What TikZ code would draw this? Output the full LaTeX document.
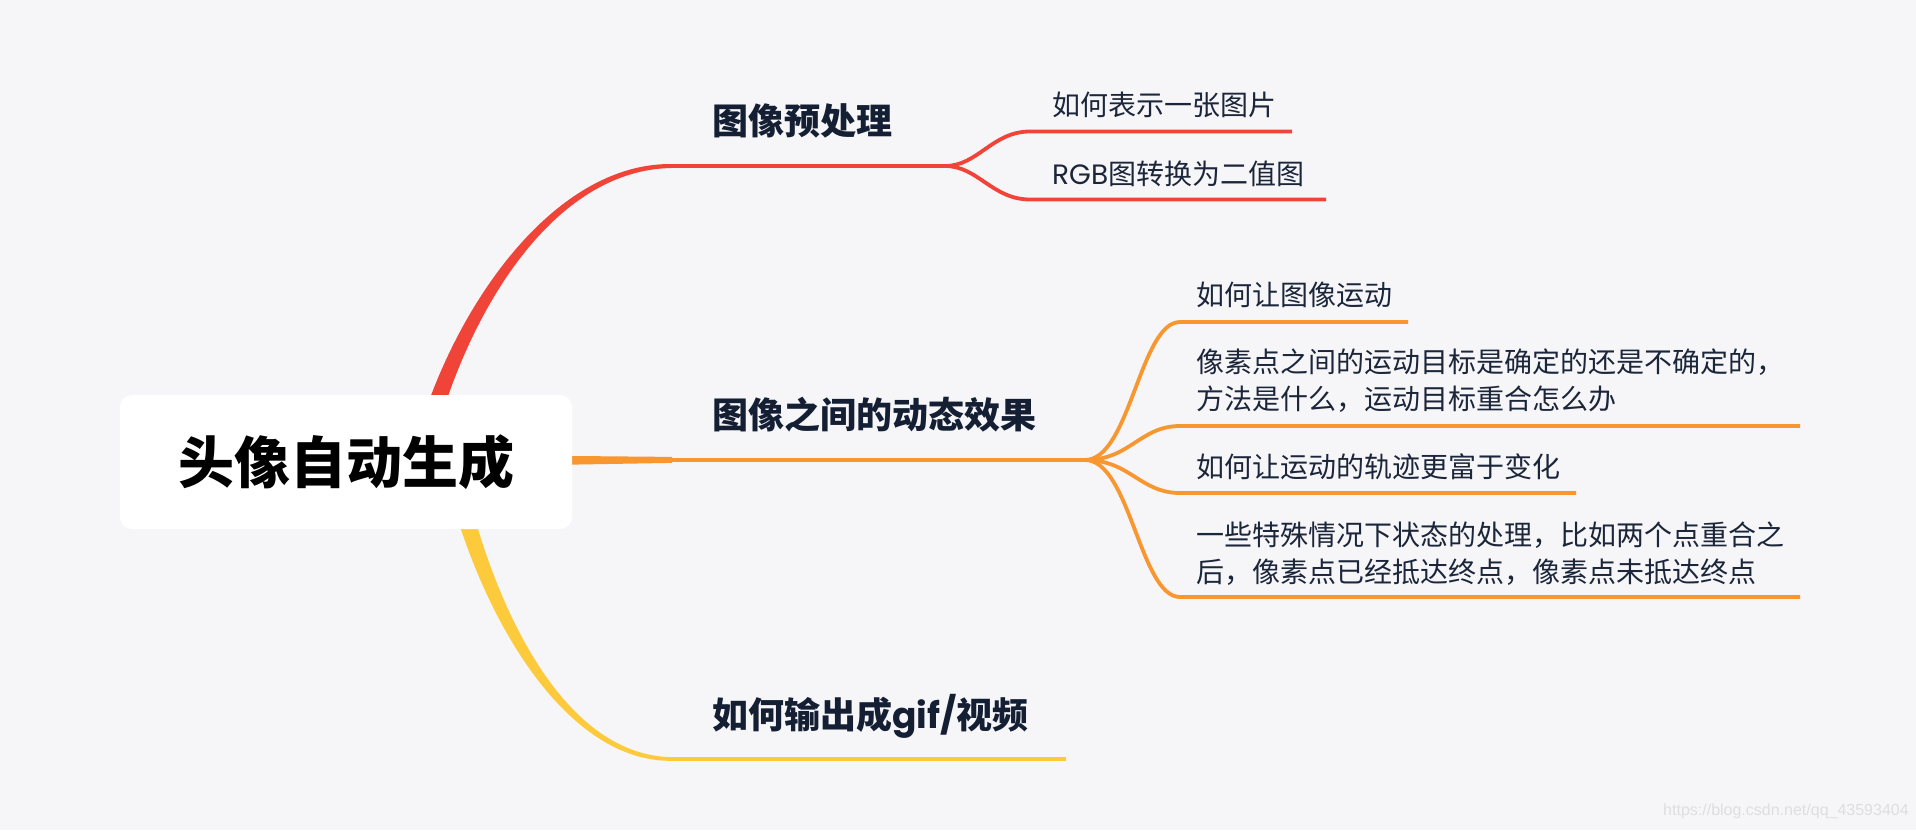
\documentclass[tikz,border=0pt]{standalone}
\usepackage{fontspec}
\newfontfamily\cjk{Noto Sans CJK SC}
\newfontfamily\lat{Poppins}
\newfontfamily\wm{Liberation Sans}
\usetikzlibrary{calc}
\definecolor{bg}{RGB}{246,246,248}
\definecolor{cred}{RGB}{241,68,57}
\definecolor{corange}{RGB}{248,150,48}
\definecolor{cyellow}{RGB}{253,202,60}
\definecolor{inkmain}{RGB}{20,31,52}
\definecolor{inksub}{RGB}{28,38,58}
\definecolor{wmgray}{RGB}{222,222,226}
\begin{document}
\begin{tikzpicture}[x=1pt,y=-1pt,
  rootbox/.style={fill=white, rounded corners=12pt, inner sep=0pt,
    minimum width=452pt, minimum height=134pt,
    font=\cjk\bfseries\fontsize{56}{60}\selectfont, text=black},
  maintext/.style={inner sep=0pt, anchor=base west,
    font=\cjk\bfseries\fontsize{36}{40}\selectfont, text=inkmain},
  subtext/.style={inner sep=0pt, anchor=base west, align=left,
    font=\cjk\fontsize{28}{36.5}\selectfont, text=inksub},
  redline/.style={draw=cred, line width=3.8pt},
  orangeline/.style={draw=corange, line width=3.8pt},
  yellowline/.style={draw=cyellow, line width=3.6pt}]
\useasboundingbox (0,0) rectangle (1916,830);
\fill[bg] (0,0) rectangle (1916,830);

% junction coordinates
\coordinate (redEnd) at (672,166);
\coordinate (redJ) at (945,166);
\coordinate (orgEnd) at (672,460);
\coordinate (orgJ) at (1085,460);
\coordinate (yelEnd) at (672,759);
\coordinate (yelJ) at (1066,759);

% tapered main branches (drawn below the root box)
\fill[cred] (409.2,468.1) .. controls (439.7,328.2) and (545,162.5) .. (672,164)
  -- (672,168) .. controls (545,169.5) and (456.3,331.8) .. (426.8,471.9) -- cycle;
\fill[cyellow] (441.2,456.8) .. controls (471.7,601.7) and (560,762.5) .. (672,760.8)
  -- (672,757.2) .. controls (560,755.5) and (488.3,598.3) .. (458.8,453.2) -- cycle;
\fill[corange] (520,455.5) -- (672,456.9) -- (672,462.9) -- (520,465.5) -- cycle;

% main topic underlines
\draw[redline] (redEnd) -- (redJ);
\draw[orangeline] (orgEnd) -- (orgJ);
\draw[yellowline] (yelEnd) -- (yelJ);

% red children
\coordinate (r1s) at (1030,131.5); \coordinate (r1e) at (1292,131.5);
\coordinate (r2s) at (1030,199.5); \coordinate (r2e) at (1326,199.5);
\draw[redline] (redJ) .. controls +(33,0) and +(-38,0) .. (r1s) -- (r1e);
\draw[redline] (redJ) .. controls +(33,0) and +(-38,0) .. (r2s) -- (r2e);

% orange children
\coordinate (o1s) at (1180,322); \coordinate (o1e) at (1408,322);
\coordinate (o2s) at (1180,426); \coordinate (o2e) at (1800,426);
\coordinate (o3s) at (1180,493); \coordinate (o3e) at (1576,493);
\coordinate (o4s) at (1180,597); \coordinate (o4e) at (1800,597);
\foreach \c in {o1,o2,o3,o4}{
  \draw[orangeline] (orgJ) .. controls +(45,0) and +(-40,0) .. (\c s) -- (\c e);
}

% root
\node[rootbox] (root) at (346,462) {头像自动生成};

% main topics
\node[maintext] (t1) at (712,134) {图像预处理};
\node[maintext] (t2) at (712,428) {图像之间的动态效果};
\node[maintext] (t3) at (712,728) {如何输出成{\lat\bfseries gif/}视频};

% red subtopics
\node[subtext] (r1) at (1052,115) {如何表示一张图片};
\node[subtext] (r2) at (1052,184) {{\lat RGB}图转换为二值图};

% orange subtopics
\node[subtext] (o1) at (1196,305) {如何让图像运动};
\node[subtext] (o2) at (1196,409) {像素点之间的运动目标是确定的还是不确定的，\\方法是什么，运动目标重合怎么办};
\node[subtext] (o3) at (1196,477) {如何让运动的轨迹更富于变化};
\node[subtext] (o4) at (1196,582) {一些特殊情况下状态的处理，比如两个点重合之\\后，像素点已经抵达终点，像素点未抵达终点};

% watermark
\node[inner sep=0pt, anchor=base west, font=\wm\fontsize{16}{18}\selectfont, text=wmgray] (wm) at (1663,815) {https://blog.csdn.net/qq\_43593404};
\end{tikzpicture}
\end{document}
